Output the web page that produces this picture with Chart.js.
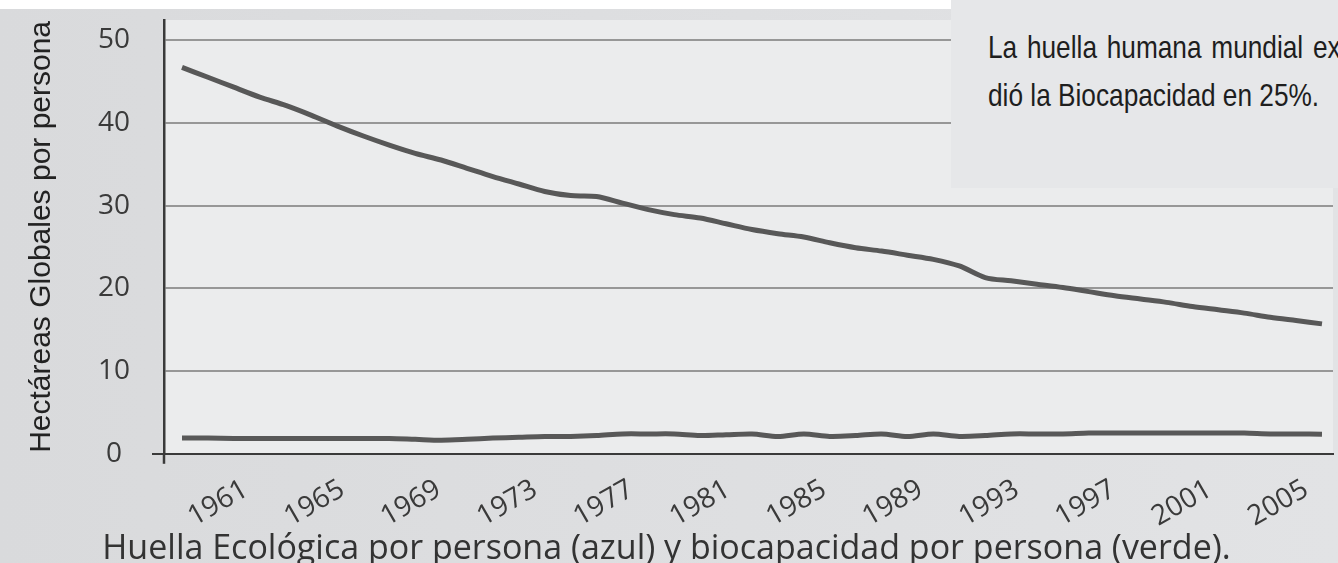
<!DOCTYPE html>
<html>
<head>
<meta charset="utf-8">
<script src="https://cdn.jsdelivr.net/npm/chart.js@4.4.1/dist/chart.umd.min.js"></script>
<style>
  html, body { margin: 0; padding: 0; background: #fff; }
  #wrap { position: relative; width: 1338px; height: 563px; overflow: hidden; }
  #nota {
    position: absolute; left: 951px; top: 0; width: 387px; height: 188px;
    background: #e6e7e9; color: #1e1e1e; overflow: hidden;
    font-family: "Liberation Sans", Arial, sans-serif;
    font-size: 32px; line-height: 48px;
  }
  #nota div {
    position: absolute; left: 37px; white-space: nowrap;
    transform: scaleX(0.82); transform-origin: 0 0;
  }
</style>
</head>
<body>
<div id="wrap">
  <canvas id="huellaChart" width="1338" height="563"></canvas>
  <div id="nota">
    <div style="top:23px; word-spacing:3px;">La huella humana mundial ex</div>
    <div style="top:71px;">dió la Biocapacidad en 25%.</div>
  </div>
</div>
<script>
const years = [1961, 1962, 1963, 1964, 1965, 1966, 1967, 1968, 1969, 1970,
  1971, 1972, 1973, 1974, 1975, 1976, 1977, 1978, 1979, 1980,
  1981, 1982, 1983, 1984, 1985, 1986, 1987, 1988, 1989, 1990,
  1991, 1992, 1993, 1994, 1995, 1996, 1997, 1998, 1999, 2000,
  2001, 2002, 2003, 2004, 2005];
const tickYears = [1961, 1965, 1969, 1973, 1977, 1981, 1985, 1989, 1993, 1997, 2001, 2005];
const yTicks = [0, 10, 20, 30, 40, 50];

// upper line
const lineaSuperior = [46.7, 45.5, 44.3, 43.1, 42.1, 40.9, 39.6, 38.4, 37.3, 36.3,
  35.5, 34.5, 33.5, 32.6, 31.7, 31.2, 31.1, 30.3, 29.5, 28.9,
  28.5, 27.8, 27.1, 26.6, 26.2, 25.5, 24.9, 24.5, 24.0, 23.5,
  22.7, 21.3, 20.9, 20.5, 20.1, 19.6, 19.1, 18.7, 18.3, 17.8,
  17.4, 17.0, 16.5, 16.1, 15.7];
// lower line
const lineaInferior = [1.9, 1.9, 1.85, 1.85, 1.85, 1.85, 1.85, 1.85, 1.85, 1.75,
  1.65, 1.75, 1.9, 2.0, 2.1, 2.1, 2.2, 2.4, 2.4, 2.4,
  2.2, 2.3, 2.4, 2.1, 2.4, 2.1, 2.2, 2.4, 2.1, 2.4,
  2.1, 2.2, 2.4, 2.4, 2.4, 2.5, 2.5, 2.5, 2.5, 2.5,
  2.5, 2.5, 2.4, 2.4, 2.35];

const lineColor = "#585858";
const axisColor = "#3a3a3a";

const fondo = {
  id: "fondo",
  beforeDraw(chart) {
    const { ctx, width, height, chartArea: a } = chart;
    ctx.save();
    const g = ctx.createLinearGradient(0, 0, width, 0);
    g.addColorStop(0, "#d9dadc");
    g.addColorStop(1, "#e2e3e5");
    ctx.fillStyle = g;
    ctx.fillRect(0, 0, width, height);
    ctx.fillStyle = "#ffffff";
    ctx.fillRect(0, 0, width, 9);
    ctx.fillStyle = "#ebeced";
    ctx.fillRect(a.left, a.top, a.right - a.left, a.bottom - a.top);
    ctx.restore();
  },
  afterDraw(chart) {
    // y axis runs a little below the x axis
    const { ctx, chartArea: a } = chart;
    ctx.save();
    ctx.strokeStyle = axisColor;
    ctx.lineWidth = 2.5;
    ctx.beginPath();
    ctx.moveTo(a.left, a.bottom);
    ctx.lineTo(a.left, a.bottom + 10);
    ctx.stroke();
    ctx.restore();
  },
};

const ctx = document.getElementById("huellaChart").getContext("2d");
new Chart(ctx, {
  type: "line",
  data: {
    datasets: [
      {
        label: "Huella Ecológica por persona",
        data: years.map((yr, i) => ({ x: yr, y: lineaSuperior[i] })),
        borderColor: lineColor,
        borderWidth: 5,
        pointRadius: 0,
        tension: 0.3,
        xAxisID: "x",
      },
      {
        label: "Biocapacidad por persona",
        data: years.map((yr, i) => ({ x: yr, y: lineaInferior[i] })),
        borderColor: lineColor,
        borderWidth: 5,
        pointRadius: 0,
        tension: 0.3,
        xAxisID: "x",
      },
    ],
  },
  options: {
    responsive: false,
    animation: false,
    layout: { padding: { top: 20, right: 5, left: 0, bottom: 0 } },
    scales: {
      x: {
        type: "linear",
        display: false,
        min: 1960.305,
        max: 2005.425,
      },
      xl: {
        type: "linear",
        position: "bottom",
        min: 1957.6,
        max: 2006.12,
        afterBuildTicks: (scale) => {
          scale.ticks = tickYears.map((v) => ({ value: v }));
        },
        afterFit: (scale) => {
          scale.height = 76;
          scale.paddingLeft = 0;
          scale.paddingRight = 0;
        },
        grid: { display: false, drawTicks: false },
        border: { display: true, color: axisColor, width: 2 },
        ticks: {
          autoSkip: false,
          minRotation: 30,
          maxRotation: 30,
          padding: 19,
          color: "#3a3a3a",
          font: { family: "Open Sans", size: 28 },
          callback: (v) => String(v),
        },
      },
      y: {
        min: 0,
        max: 52.42,
        afterBuildTicks: (scale) => {
          scale.ticks = yTicks.map((v) => ({ value: v }));
        },
        afterFit: (scale) => {
          scale.width = 164;
          scale.paddingTop = 0;
          scale.paddingBottom = 0;
        },
        grid: {
          color: (c) => (c.tick && c.tick.value === 0 ? "transparent" : "#979797"),
          lineWidth: 2,
          tickLength: 12,
          tickColor: (c) => (c.tick && c.tick.value === 0 ? axisColor : "transparent"),
        },
        border: { display: true, color: axisColor, width: 2.5 },
        ticks: {
          crossAlign: "center",
          padding: 22,
          color: "#3a3a3a",
          font: { family: "Open Sans", size: 28 },
        },
        title: {
          display: true,
          text: "Hectáreas Globales por persona",
          color: "#222222",
          font: { family: "Liberation Sans", size: 30, lineHeight: 1 },
          padding: { top: 27, bottom: 0 },
        },
      },
    },
    plugins: {
      legend: { display: false },
      tooltip: { enabled: false },
      title: {
        display: true,
        position: "bottom",
        text: "Huella Ecológica por persona (azul) y biocapacidad por persona (verde).",
        color: "#333333",
        font: { family: "Open Sans", size: 34, weight: "normal", lineHeight: 0.8 },
        padding: { top: 6, bottom: 0 },
      },
    },
  },
  plugins: [fondo],
});
</script>
</body>
</html>
